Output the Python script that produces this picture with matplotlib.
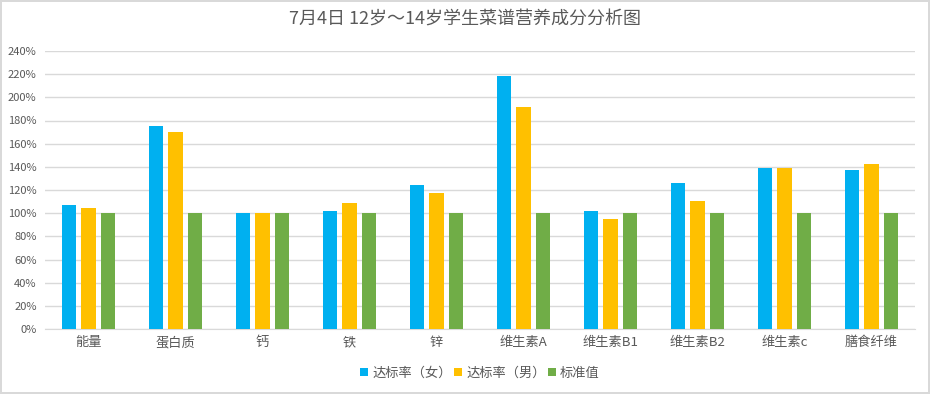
import matplotlib
matplotlib.use("Agg")
import matplotlib.pyplot as plt
import numpy as np
from matplotlib.ticker import PercentFormatter

plt.rcParams['font.family'] = ['Noto Sans CJK SC', 'DejaVu Sans']

categories = ['能量', '蛋白质', '钙', '铁', '锌', '维生素A', '维生素B1', '维生素B2', '维生素c', '膳食纤维']
female = [107.3, 175.5, 99.8, 101.5, 124.0, 218.7, 101.9, 126.0, 139.0, 137.3]
male = [104.7, 170.3, 100.4, 108.4, 117.0, 191.7, 95.0, 110.5, 139.0, 142.4]
standard = [100, 100, 100, 100, 100, 100, 100, 100, 100, 100]
series_names = ['达标率（女）', '达标率（男）', '标准值']
colors = ['#00b0f0', '#ffc000', '#70ad47']

text_color = '#595959'
grid_color = '#d9d9d9'

fig = plt.figure(figsize=(9.3, 3.94), dpi=100)
fig.patch.set_edgecolor('#d9d9d9')
fig.patch.set_linewidth(1.5)
ax = fig.add_axes([45 / 930, 1 - 329 / 394, 870 / 930, 278 / 394])

x = np.arange(len(categories))
width = 0.172
step = 0.224
for i, (vals, name, c) in enumerate(zip([female, male, standard], series_names, colors)):
    ax.bar(x + (i - 1) * step, vals, width, color=c, label=name, zorder=3)

ax.set_xlim(-0.5, len(categories) - 0.5)
ax.set_ylim(0, 240)
ax.set_yticks(np.arange(0, 241, 20))
ax.yaxis.set_major_formatter(PercentFormatter(decimals=0))
ax.set_xticks(x)
ax.set_xticklabels(categories)
ax.grid(axis='y', color=grid_color, linewidth=1, zorder=0)
for s in ['top', 'right', 'left']:
    ax.spines[s].set_visible(False)
ax.spines['bottom'].set_color(grid_color)
ax.tick_params(axis='both', length=0, colors=text_color)
ax.tick_params(axis='y', labelsize=8, pad=6)
ax.tick_params(axis='x', labelsize=9.5, pad=5)

# title
fig.text(0.5, 1 - 20 / 394, '7月4日 12岁～14岁学生菜谱营养成分分析图', ha='center', va='center',
         fontsize=13, color=text_color)

ax.legend(loc='center', bbox_to_anchor=(0.5, (329 - 373) / 278), ncol=3, frameon=False,
          fontsize=9.5, handlelength=0.6, handleheight=0.6, handletextpad=0.3,
          columnspacing=0.2, labelcolor=text_color)

fig.savefig('out.png', dpi=100)
